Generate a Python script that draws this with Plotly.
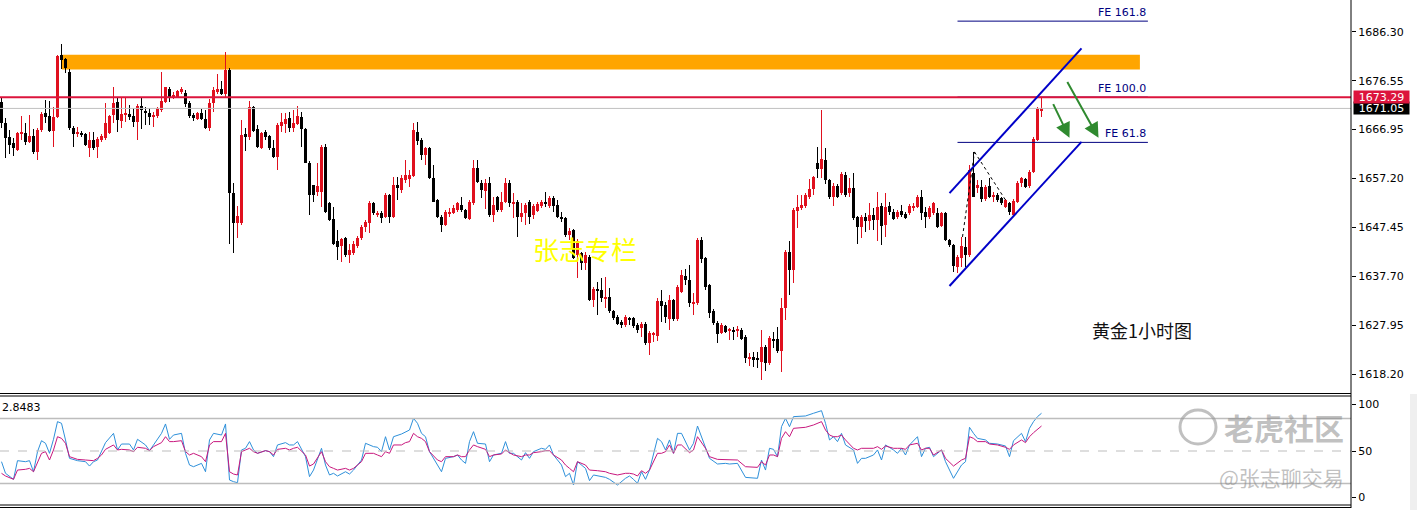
import plotly.graph_objects as go

# ---------------- DATA (gold 1h candles) ----------------
opens = [
 1672.4,1668.1,1665.4,1664.2,1662.8,1666.1,1666.2,1664.4,1665.6,1662.4,
 1666.8,1670.2,1669.5,1666.6,1669.3,1681.7,1680.9,1678.2,1667.2,1666.0,
 1666.2,1666.0,1663.2,1664.8,1663.4,1664.8,1665.2,1666.2,1669.7,1672.4,
 1668.6,1669.8,1670.0,1669.5,1668.4,1671.5,1670.6,1670.2,1669.5,1669.5,
 1670.7,1672.4,1674.9,1673.3,1673.4,1674.4,1674.2,1672.2,1669.7,1668.9,
 1670.1,1668.9,1667.2,1672.2,1674.4,1674.9,1673.9,1678.7,1654.2,1648.3,
 1648.3,1666.0,1665.3,1671.3,1666.9,1663.1,1666.4,1665.6,1663.1,1661.4,
 1667.6,1668.0,1669.1,1667.2,1668.0,1669.4,1666.9,1660.3,1655.8,1654.5,
 1654.5,1663.4,1652.3,1649.0,1644.6,1643.7,1645.3,1641.9,1642.3,1643.7,
 1645.2,1647.5,1648.2,1652.2,1649.9,1650.2,1649.5,1653.8,1649.5,1655.8,
 1654.8,1656.8,1657.0,1657.6,1666.4,1664.8,1661.8,1663.1,1657.2,1652.9,
 1649.5,1647.9,1650.2,1650.3,1650.9,1651.9,1650.9,1649.0,1652.2,1659.3,
 1656.3,1654.6,1656.2,1649.9,1653.4,1650.9,1652.5,1656.3,1652.2,1652.5,
 1649.4,1650.2,1652.5,1649.9,1650.7,1651.7,1652.5,1651.7,1653.2,1651.9,
 1649.5,1649.2,1645.9,1646.9,1641.9,1642.3,1640.3,1641.6,1633.0,1635.1,
 1634.9,1633.3,1633.6,1630.7,1629.6,1628.6,1628.0,1629.3,1629.3,1628.0,
 1627.4,1628.2,1624.5,1626.0,1625.8,1632.8,1632.0,1629.1,1633.0,1629.1,
 1634.6,1637.7,1636.9,1632.3,1632.3,1644.9,1641.3,1635.9,1630.8,1628.3,
 1626.5,1627.8,1626.9,1627.0,1626.9,1627.0,1625.6,1621.4,1621.6,1621.4,
 1620.7,1623.6,1620.4,1625.2,1625.2,1622.9,1631.3,1642.6,1638.9,1650.7,
 1651.2,1651.7,1653.4,1655.0,1660.3,1659.1,1660.8,1656.8,1653.5,1655.6,
 1654.2,1657.8,1654.3,1655.2,1649.4,1647.5,1649.4,1648.7,1649.9,1648.9,
 1651.7,1647.9,1651.7,1650.5,1649.4,1650.7,1650.1,1650.2,1651.2,1651.5,
 1653.5,1650.5,1649.4,1650.2,1650.2,1647.7,1650.2,1644.9,1643.9,1639.6,
 1641.4,1643.6,1641.9,1658.2,1655.2,1655.5,1653.0,1655.6,1653.5,1653.8,
 1653.2,1651.5,1652.2,1649.9,1652.5,1656.2,1657.0,1655.6,1658.5,1664.8,
 1670.7]
highs = [
 1673.4,1669.1,1666.8,1665.2,1666.4,1669.5,1668.2,1669.7,1667.0,1667.2,
 1670.4,1672.7,1672.5,1671.3,1681.7,1683.9,1681.1,1678.9,1667.6,1667.4,
 1666.6,1666.2,1666.4,1666.4,1665.4,1666.0,1672.1,1669.7,1675.4,1673.4,
 1673.1,1673.1,1671.7,1671.1,1672.0,1673.1,1671.4,1671.1,1670.4,1671.4,
 1678.3,1675.4,1675.3,1674.4,1674.7,1675.4,1674.7,1672.5,1670.1,1670.3,
 1670.9,1670.7,1672.9,1675.3,1677.9,1676.6,1682.3,1679.1,1656.2,1651.7,
 1668.7,1667.2,1672.6,1671.5,1667.8,1666.4,1666.8,1665.8,1664.8,1668.1,
 1670.1,1670.1,1670.4,1670.7,1671.5,1670.3,1667.2,1660.5,1655.8,1660.2,
 1663.7,1664.0,1652.5,1651.5,1646.9,1645.3,1645.5,1644.2,1644.7,1645.7,
 1647.9,1648.9,1652.6,1652.5,1650.7,1650.7,1654.2,1654.0,1657.4,1657.5,
 1657.8,1660.7,1658.8,1668.1,1668.4,1665.1,1663.4,1663.4,1659.8,1653.1,
 1649.8,1650.9,1651.2,1651.9,1652.5,1653.5,1651.1,1652.9,1660.8,1660.8,
 1656.8,1657.0,1657.5,1653.4,1653.6,1654.5,1657.2,1656.8,1654.2,1652.9,
 1652.2,1652.3,1652.9,1652.1,1652.4,1652.9,1654.5,1653.6,1653.6,1652.9,
 1650.5,1649.5,1647.2,1647.1,1645.0,1642.6,1642.6,1641.9,1635.5,1636.6,
 1637.3,1637.6,1635.4,1631.0,1630.0,1629.0,1630.0,1629.6,1629.6,1628.4,
 1628.6,1628.6,1626.8,1626.7,1633.3,1634.9,1632.6,1634.0,1633.2,1636.0,
 1638.9,1639.1,1639.9,1634.3,1645.2,1645.5,1641.5,1636.2,1631.2,1628.8,
 1628.4,1628.0,1627.4,1627.7,1627.8,1627.4,1626.0,1622.4,1622.7,1622.7,
 1627.0,1624.0,1625.8,1626.7,1627.7,1633.3,1643.0,1644.6,1651.3,1653.8,
 1653.8,1654.2,1657.0,1657.6,1663.4,1670.7,1663.1,1657.0,1656.3,1656.0,
 1658.4,1658.5,1657.2,1658.2,1649.6,1649.9,1650.2,1652.2,1651.2,1654.5,
 1652.2,1654.2,1652.5,1651.1,1650.9,1651.9,1650.5,1652.1,1652.3,1653.8,
 1654.8,1651.5,1651.7,1652.5,1651.2,1650.5,1650.5,1645.1,1644.1,1642.0,
 1645.5,1645.5,1659.8,1662.4,1656.9,1656.8,1655.9,1657.2,1654.5,1654.2,
 1653.5,1653.1,1652.5,1653.0,1656.6,1657.5,1657.2,1658.8,1665.3,1671.4,
 1673.4]
lows = [
 1667.1,1661.2,1662.0,1661.6,1662.6,1664.8,1663.8,1664.2,1662.0,1660.8,
 1666.4,1668.2,1666.4,1663.4,1669.1,1678.8,1678.1,1666.8,1663.4,1665.4,
 1665.4,1663.6,1661.4,1662.8,1661.2,1664.4,1664.8,1666.0,1668.2,1666.4,
 1667.2,1668.4,1668.7,1667.4,1664.8,1666.9,1667.8,1667.8,1667.4,1669.1,
 1670.3,1672.1,1672.4,1672.9,1673.1,1673.9,1671.3,1669.1,1668.5,1668.7,
 1668.7,1666.9,1666.6,1670.4,1674.0,1673.7,1673.2,1644.2,1642.3,1645.3,
 1647.9,1662.6,1664.8,1666.4,1663.1,1663.0,1664.8,1662.8,1661.1,1658.8,
 1666.4,1666.1,1666.4,1666.4,1667.8,1663.4,1660.2,1649.9,1652.5,1653.6,
 1651.5,1650.3,1648.7,1643.9,1640.9,1640.6,1641.6,1640.3,1641.9,1643.3,
 1644.9,1646.5,1646.2,1649.9,1649.5,1648.2,1649.3,1648.3,1649.2,1652.8,
 1654.2,1656.2,1655.5,1657.4,1663.8,1660.8,1659.8,1657.0,1652.4,1649.3,
 1646.5,1647.7,1649.5,1650.1,1650.5,1650.5,1649.1,1648.9,1651.9,1656.2,
 1653.2,1651.0,1649.5,1648.5,1650.5,1650.5,1652.2,1651.5,1649.2,1645.5,
 1648.5,1647.9,1648.0,1649.0,1650.5,1651.3,1651.5,1651.3,1650.5,1649.3,
 1648.5,1645.5,1644.9,1641.1,1637.3,1638.9,1638.9,1632.8,1631.6,1630.0,
 1632.6,1631.3,1630.4,1629.0,1628.0,1627.5,1627.6,1628.0,1627.4,1626.5,
 1625.7,1624.0,1622.0,1624.7,1624.9,1628.6,1628.3,1627.0,1628.8,1628.8,
 1634.3,1635.9,1631.6,1630.0,1632.0,1640.3,1634.9,1629.3,1628.0,1624.5,
 1626.2,1626.4,1625.0,1625.0,1625.6,1625.0,1620.4,1619.9,1619.7,1619.4,
 1617.1,1618.9,1620.0,1623.4,1622.4,1618.7,1629.0,1634.0,1636.3,1647.2,
 1650.9,1651.2,1653.0,1653.8,1657.2,1657.2,1656.0,1653.0,1651.7,1653.2,
 1653.8,1653.4,1653.5,1648.9,1644.2,1645.2,1646.5,1646.9,1646.9,1644.6,
 1643.9,1645.5,1649.9,1648.9,1649.1,1649.4,1649.1,1649.9,1650.7,1651.2,
 1648.9,1647.2,1649.1,1649.9,1647.2,1647.5,1644.6,1643.5,1638.6,1638.3,
 1639.6,1639.6,1641.5,1653.4,1654.2,1652.5,1652.6,1653.2,1652.5,1652.5,
 1651.9,1651.3,1649.9,1649.7,1652.2,1655.5,1655.2,1655.2,1658.2,1664.5,
 1669.4]
closes = [
 1668.1,1665.1,1663.8,1663.2,1666.2,1666.4,1664.4,1665.6,1662.4,1666.8,
 1669.9,1669.4,1666.6,1669.3,1681.5,1680.7,1679.0,1667.1,1666.0,1666.2,
 1665.8,1663.8,1664.8,1663.2,1665.0,1665.6,1668.2,1669.5,1672.2,1668.7,
 1669.9,1670.0,1669.3,1668.4,1671.5,1670.7,1670.1,1669.4,1669.7,1671.1,
 1672.5,1675.3,1673.1,1673.7,1674.5,1674.9,1671.9,1669.5,1669.1,1670.1,
 1668.9,1667.2,1672.2,1674.7,1674.9,1673.9,1678.7,1654.2,1648.3,1649.7,
 1665.8,1665.3,1671.3,1666.6,1663.3,1666.2,1665.3,1663.1,1661.3,1667.8,
 1668.4,1668.9,1667.2,1668.2,1669.5,1666.9,1660.3,1653.8,1653.8,1655.6,
 1663.3,1650.5,1648.9,1644.2,1643.6,1645.1,1641.9,1642.9,1644.2,1645.2,
 1647.5,1648.5,1652.2,1650.2,1650.2,1649.2,1653.8,1649.5,1655.8,1655.2,
 1657.2,1657.8,1657.8,1666.8,1664.6,1661.8,1663.1,1657.2,1652.5,1649.5,
 1647.9,1650.5,1650.5,1651.2,1652.2,1650.9,1649.2,1652.5,1659.3,1656.5,
 1654.8,1656.2,1649.9,1651.9,1650.9,1652.5,1656.3,1652.2,1652.5,1649.5,
 1650.2,1651.9,1649.5,1651.7,1652.1,1652.5,1652.2,1653.2,1651.7,1649.5,
 1649.0,1645.9,1646.7,1641.3,1644.6,1640.3,1641.9,1633.0,1635.1,1634.8,
 1633.3,1633.6,1630.7,1629.4,1628.2,1628.0,1629.6,1628.9,1627.8,1627.0,
 1628.2,1624.5,1626.4,1626.4,1632.8,1631.8,1629.6,1633.0,1629.1,1635.6,
 1637.9,1636.9,1632.3,1632.6,1644.9,1641.1,1635.6,1630.3,1628.3,1626.3,
 1628.0,1626.7,1627.0,1626.7,1627.0,1625.2,1621.4,1621.7,1621.0,1621.0,
 1623.6,1620.4,1625.4,1624.9,1622.9,1631.3,1642.6,1638.9,1650.9,1651.4,
 1651.9,1653.8,1655.0,1657.4,1659.1,1660.9,1656.8,1653.4,1655.6,1653.5,
 1658.1,1653.8,1655.2,1649.2,1647.5,1649.4,1648.7,1649.9,1648.9,1651.5,
 1647.7,1651.5,1650.5,1649.0,1650.5,1649.9,1649.2,1651.7,1651.7,1653.5,
 1650.2,1649.4,1651.2,1652.2,1647.5,1650.2,1644.9,1643.9,1639.7,1641.6,
 1643.7,1641.9,1658.8,1653.5,1655.8,1653.0,1655.5,1653.5,1653.8,1652.9,
 1652.3,1652.9,1650.5,1652.7,1656.3,1657.2,1655.5,1658.5,1664.9,1671.0,
 1671.05]

# oscillator samples (bar index, main line, signal line)
osc_bar = [
 0,1,3,4,6,7,8,9,10,11, 12,13,14,15,16,17,19,21,22,23,
 24,25,26,28,29,30,32,33,34,36, 37,38,40,41,42,43,45,46,47,48,
 50,51,52,53,55,56,57,58,59,60, 61,62,63,64,66,67,68,69,71,72,
 73,74,76,77,78,80,81,82,83,84, 86,87,88,90,91,93,94,95,96,97,
 98,100,101,102,103,104,105,106,107,109, 110,111,113,114,115,116,117,118,119,121,
 122,123,125,126,127,128,130,131,132,133, 135,136,137,138,140,141,142,143,144,146,
 147,148,149,151,152,154,156,157,158,159, 160,161,162,164,165,166,167,168,169,170,
 172,173,174,176,177,179,181,182,184,186, 188,189,190,191,192,193,194,195,196,197,
 198,201,203,205,206,207,208,209,210,211, 213,214,215,216,218,219,220,221,223,224,
 225,226,227,229,230,231,232,233,235,236, 238,240,241,242,243,244,246,247,249,251,
 252,253,255,256,257,258,259,260]
osc_main = [
 38.5,26.0,19.5,39.6,38.5,39.6,27.7,49.3,61.1,58.3, 47.5,62.6,81.6,79.8,61.9,42.1,39.6,38.5,33.8,38.5,
 40.3,49.3,59.0,69.0,51.1,57.5,57.5,51.1,62.6,56.5, 50.4,56.5,69.0,79.1,62.6,67.2,69.0,47.5,34.9,33.1,
 36.7,27.7,61.9,69.0,67.2,79.1,18.8,17.0,15.9,51.1, 52.9,60.1,51.1,47.5,50.4,49.3,43.9,56.5,59.0,56.5,
 56.5,60.1,43.9,22.4,29.5,52.9,34.9,24.2,26.0,23.1, 27.7,25.2,29.5,40.3,58.3,54.7,54.0,49.3,65.4,51.1,
 65.4,68.3,70.8,72.6,85.2,79.8,69.0,65.4,49.3,34.9, 27.7,42.1,43.9,45.7,40.3,36.7,60.1,70.8,58.3,57.5,
 38.5,45.7,47.5,60.1,47.5,47.5,40.3,48.2,42.1,49.3, 52.9,51.8,56.5,45.7,34.9,22.4,26.0,13.4,38.5,31.3,
 18.1,24.2,23.1,21.6,19.5,13.4,20.6,23.1,19.5,15.2, 27.7,19.5,29.5,63.6,60.1,51.1,61.9,47.5,69.0,69.0,
 51.1,58.3,76.9,52.9,42.1,36.0,36.7,36.0,36.7,21.6, 20.6,20.6,40.3,29.5,52.9,51.8,43.9,76.2,85.2,76.2,
 87.0,87.7,90.6,93.4,79.8,61.9,65.4,60.1,69.0,56.5, 51.1,36.7,42.1,42.1,45.7,51.1,40.3,56.5,51.1,47.5,
 52.9,45.7,56.5,65.4,43.9,52.9,54.0,43.9,51.1,38.5, 20.6,34.9,38.5,75.5,69.0,63.6,61.9,58.3,57.5,55.4,
 43.9,61.1,69.0,60.1,74.4,81.6,87.0,90.6]
osc_signal = [
 26.0,23.1,19.5,29.5,30.3,31.3,27.7,38.5,47.5,49.3, 40.3,51.1,65.4,63.6,58.3,43.9,41.0,40.3,39.6,39.6,
 42.1,45.7,51.8,56.5,51.1,51.8,51.1,49.3,54.0,52.9, 50.4,54.7,59.0,65.4,60.1,60.1,61.1,49.3,45.7,47.5,
 43.9,38.5,56.5,60.1,60.1,69.0,27.7,25.2,24.2,49.3, 51.1,52.9,49.3,47.5,50.4,49.3,45.7,51.8,52.9,51.1,
 52.9,54.0,45.7,33.8,36.0,49.3,38.5,33.1,31.3,29.5, 31.3,29.5,31.3,38.5,47.5,47.5,45.7,43.9,49.3,47.5,
 56.5,56.5,59.0,60.1,69.0,65.4,63.6,60.1,49.3,40.3, 38.5,43.9,43.9,45.7,43.9,43.9,51.1,56.5,54.7,51.8,
 43.9,45.7,46.8,51.1,48.2,45.7,43.9,45.7,45.7,48.2, 49.3,50.4,50.4,45.7,40.3,34.9,31.3,27.7,38.5,34.9,
 29.5,29.5,28.8,27.7,26.0,24.2,26.0,26.0,25.2,23.1, 28.8,26.0,29.5,47.5,47.5,49.3,56.5,47.5,56.5,56.5,
 48.2,51.1,65.4,52.9,43.9,41.0,41.0,41.0,40.3,33.1, 32.4,32.4,38.5,34.9,45.7,45.7,43.9,63.6,70.8,65.4,
 74.4,75.5,78.0,81.6,72.6,67.2,65.4,65.4,67.2,61.9, 52.9,51.1,52.9,52.9,52.9,54.7,51.8,55.4,52.9,52.9,
 52.9,51.8,56.5,58.3,51.1,52.9,52.9,45.7,51.1,42.1, 33.8,40.3,42.1,65.4,63.6,60.1,60.1,57.5,56.5,54.0,
 51.8,56.5,61.9,59.0,65.4,69.7,73.3,76.9]
osc_levels = [85, 50, 15]

price_ticks = [1686.30, 1676.55, 1666.95, 1657.20, 1647.45, 1637.70, 1627.95, 1618.20]
price_tick_text = ["1686.30", "1676.55", "1666.95", "1657.20", "1647.45", "1637.70", "1627.95", "1618.20"]
osc_ticks = [100, 50, 0]

level_red = 1673.29      # horizontal resistance line
last_price = 1671.05     # bid line
zone_bars = [15.1, 284.6]
zone_prices = [1678.8, 1681.7]
fe_names = ["FE 161.8", "FE 100.0", "FE 61.8"]
fe_prices = [1688.4, 1673.3, 1664.3]
fe_bars = [239.0, 286.6]
chan_bars = [237.0, 270.0]
chan_upper = [1654.2, 1683.0]
chan_lower = [1635.75, 1664.4]
swing_bars = [240.25, 243.25, 251.0]
swing_prices = [1645.5, 1662.4, 1652.85]
arrow_tail_bars = [262.75, 266.25]
arrow_tail_prices = [1672.2, 1676.6]
arrow_head_bars = [267.0, 274.25]
arrow_head_prices = [1665.2, 1665.2]
osc_label = "2.8483"

# ---------------- FIGURE ----------------
W, H = 1417, 510
PLOT_R = 1351          # right edge of chart panes (px)
MAIN_B = 392           # bottom of price pane (px)
OSC_T, OSC_B = 396, 506

def fx(px):
    return px / W

def fy(py):
    return 1 - py / H

RED = "#E0101E"
BLACK = "#000000"

n = len(opens)
if not (len(highs) == len(lows) == len(closes) == n):
    raise ValueError("ohlc length mismatch")
if not (len(osc_bar) == len(osc_main) == len(osc_signal)):
    raise ValueError("osc length mismatch")

bars = list(range(n))
colors = [RED if c >= o else BLACK for o, c in zip(opens, closes)]
wick_base = [min(l, o, c) for o, l, c in zip(opens, lows, closes)]
wick_len = [max(h, o, c) - min(l, o, c) for o, h, l, c in zip(opens, highs, lows, closes)]
body_base = [min(o, c) for o, c in zip(opens, closes)]
body_len = [max(abs(c - o), 0.2) for o, c in zip(opens, closes)]

fig = go.Figure()
fig.add_trace(go.Bar(x=bars, y=wick_len, base=wick_base, width=0.25,
                     marker=dict(color=colors, line=dict(width=0)),
                     xaxis="x", yaxis="y", hoverinfo="skip", showlegend=False))
fig.add_trace(go.Bar(x=bars, y=body_len, base=body_base, width=0.75,
                     marker=dict(color=colors, line=dict(width=0)),
                     xaxis="x", yaxis="y", hoverinfo="skip", showlegend=False))

fig.add_trace(go.Scatter(x=osc_bar, y=osc_main, mode="lines",
                         line=dict(color="#2E90DA", width=1),
                         xaxis="x2", yaxis="y2", hoverinfo="skip", showlegend=False))
fig.add_trace(go.Scatter(x=osc_bar, y=osc_signal, mode="lines",
                         line=dict(color="#C8187E", width=1),
                         xaxis="x2", yaxis="y2", hoverinfo="skip", showlegend=False))

xr = [-0.375, PLOT_R / 4 - 0.375]
shapes = []
shapes.append(dict(type="rect", xref="x", yref="y", x0=zone_bars[0], x1=zone_bars[1],
                   y0=zone_prices[0], y1=zone_prices[1], fillcolor="#FFA500",
                   line=dict(width=0), layer="below"))
for p in fe_prices:
    shapes.append(dict(type="line", xref="x", yref="y", x0=fe_bars[0], x1=fe_bars[1],
                       y0=p, y1=p, line=dict(color="#000080", width=1)))
shapes.append(dict(type="line", xref="paper", yref="y", x0=0, x1=fx(PLOT_R),
                   y0=last_price, y1=last_price, line=dict(color="#C0C0C0", width=1)))
shapes.append(dict(type="line", xref="paper", yref="y", x0=0, x1=fx(PLOT_R),
                   y0=level_red, y1=level_red, line=dict(color="#DC143C", width=2)))
for ys in (chan_upper, chan_lower):
    shapes.append(dict(type="line", xref="x", yref="y", x0=chan_bars[0], x1=chan_bars[1],
                       y0=ys[0], y1=ys[1], line=dict(color="#0000C8", width=2)))
for i in range(len(swing_bars) - 1):
    shapes.append(dict(type="line", xref="x", yref="y",
                       x0=swing_bars[i], x1=swing_bars[i + 1],
                       y0=swing_prices[i], y1=swing_prices[i + 1],
                       line=dict(color="#000000", width=1, dash="dot")))
for lv in osc_levels:
    shapes.append(dict(type="line", xref="paper", yref="y2", x0=0, x1=fx(PLOT_R),
                       y0=lv, y1=lv,
                       line=dict(color="#BDBDBD", width=1.5 if lv != 50 else 1,
                                 dash="solid" if lv != 50 else "dash")))
for py in (393.5, 396, 505, 507.5):
    shapes.append(dict(type="line", xref="paper", yref="paper", x0=0, x1=fx(PLOT_R),
                       y0=fy(py), y1=fy(py), line=dict(color="#000000", width=1)))
shapes.append(dict(type="line", xref="paper", yref="paper", x0=fx(PLOT_R), x1=fx(PLOT_R),
                   y0=fy(508), y1=1, line=dict(color="#000000", width=1)))
shapes.append(dict(type="rect", xref="paper", yref="paper", x0=fx(1410), x1=1,
                   y0=0, y1=fy(394), fillcolor="#EFEFEF", line=dict(width=0)))
# watermark logo
shapes.append(dict(type="circle", xref="paper", yref="paper", x0=fx(1180), x1=fx(1216),
                   y0=fy(444), y1=fy(410), line=dict(color="rgba(150,150,150,0.6)", width=3)))

annotations = []
annotations.append(dict(text="张志专栏", xref="paper", yref="paper", x=fx(585), y=fy(248),
                        xanchor="center", yanchor="middle", showarrow=False,
                        font=dict(family="Noto Sans CJK SC", size=26, color="#FFFF00")))
annotations.append(dict(text="黄金1小时图", xref="paper", yref="paper", x=fx(1142), y=fy(330),
                        xanchor="center", yanchor="middle", showarrow=False,
                        font=dict(family="Noto Sans CJK SC", size=18, color="#111111")))
for name, p in zip(fe_names, fe_prices):
    annotations.append(dict(text=name, xref="x", yref="y", x=fe_bars[1], y=p,
                            xanchor="right", yanchor="bottom", showarrow=False,
                            font=dict(family="DejaVu Sans", size=11, color="#000080")))
for i in range(len(arrow_tail_bars)):
    annotations.append(dict(text="", xref="x", yref="y", axref="x", ayref="y",
                            x=arrow_head_bars[i], y=arrow_head_prices[i],
                            ax=arrow_tail_bars[i], ay=arrow_tail_prices[i],
                            showarrow=True, arrowhead=2, arrowsize=1.5, arrowwidth=2,
                            arrowcolor="#2F8A2F"))
annotations.append(dict(text=f"{last_price:.2f}", xref="paper", yref="y", x=fx(1353), y=last_price,
                        xanchor="left", yanchor="middle", showarrow=False, width=55, height=12,
                        bgcolor="#000000", borderpad=0,
                        font=dict(family="DejaVu Sans", size=11, color="#FFFFFF")))
annotations.append(dict(text=f"{level_red:.2f}", xref="paper", yref="y", x=fx(1353), y=level_red,
                        xanchor="left", yanchor="middle", showarrow=False, width=55, height=12,
                        bgcolor="#DC143C", borderpad=0,
                        font=dict(family="DejaVu Sans", size=11, color="#FFFFFF")))
annotations.append(dict(text=osc_label, xref="paper", yref="paper", x=0, y=fy(407),
                        xanchor="left", yanchor="middle", showarrow=False,
                        font=dict(family="DejaVu Sans", size=11, color="#000000")))
# watermark texts kept left of the axis labels
annotations.append(dict(text="<b>老虎社区</b>", xref="paper", yref="paper", x=fx(1346), y=fy(427),
                        xanchor="right", yanchor="middle", showarrow=False,
                        font=dict(family="Noto Sans CJK SC", size=30, color="rgba(140,140,140,0.55)")))
annotations.append(dict(text="@张志聊交易", xref="paper", yref="paper", x=fx(1346), y=fy(477),
                        xanchor="right", yanchor="middle", showarrow=False,
                        font=dict(family="Noto Sans CJK SC", size=21, color="rgba(140,140,140,0.55)")))

fig.update_layout(
    width=W, height=H, margin=dict(l=0, r=0, t=0, b=0),
    paper_bgcolor="#FFFFFF", plot_bgcolor="#FFFFFF",
    barmode="overlay", bargap=0, showlegend=False, hovermode=False,
    shapes=shapes, annotations=annotations,
    xaxis=dict(domain=[0, fx(PLOT_R)], range=xr, visible=False, anchor="y", fixedrange=True),
    yaxis=dict(domain=[fy(MAIN_B), 1], range=[1692.6 - 0.19877 * MAIN_B, 1692.6],
               side="right", anchor="x", tickvals=price_ticks, ticktext=price_tick_text,
               ticks="outside", ticklen=4, tickcolor="#000000", showgrid=False, zeroline=False,
               showline=False, tickfont=dict(family="DejaVu Sans", size=11, color="#000000")),
    xaxis2=dict(domain=[0, fx(PLOT_R)], range=xr, visible=False, anchor="y2"),
    yaxis2=dict(domain=[fy(OSC_B), fy(OSC_T)], range=[-9.2, 109.2], side="right", anchor="x2",
                tickvals=osc_ticks, ticktext=[str(t) for t in osc_ticks],
                ticks="outside", ticklen=4, tickcolor="#000000", showgrid=False, zeroline=False,
                showline=False, tickfont=dict(family="DejaVu Sans", size=11, color="#000000")),
)

fig.write_html("out.html", config={"displayModeBar": False},
               post_script="document.body.style.margin='0';document.body.style.overflow='hidden';")
